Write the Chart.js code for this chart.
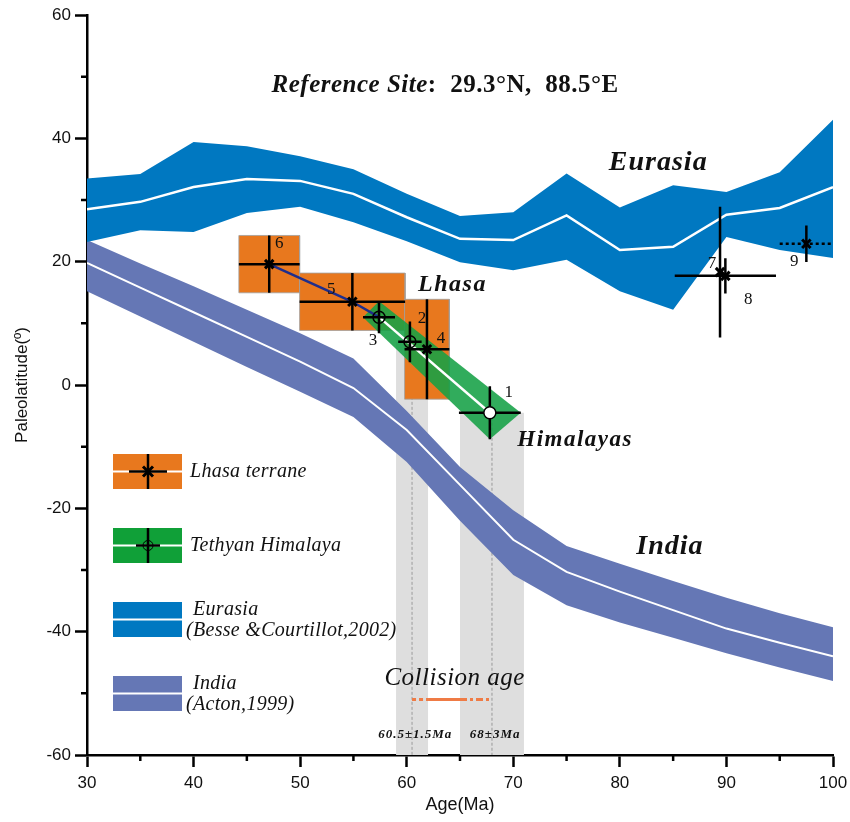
<!DOCTYPE html>
<html>
<head>
<meta charset="utf-8">
<script src="https://cdn.jsdelivr.net/npm/chart.js@4.4.0/dist/chart.umd.min.js"></script>
<style>
  html, body { margin: 0; background: #fff; }
</style>
</head>
<body>
<canvas id="paleoChart" width="850" height="822"></canvas>
<script>
// APWP bands (Ma -> paleolatitude)
const ages = [30, 35, 40, 45, 50, 55, 60, 65, 70, 75, 80, 85, 90, 95, 100];
const eurasiaUpper = [33.5, 34.2, 39.4, 38.7, 37.1, 35.0, 31.0, 27.4, 28.0, 34.3, 28.8, 32.4, 31.3, 34.5, 43.0];
const eurasiaMean  = [28.5, 29.7, 32.1, 33.4, 33.1, 31.0, 27.2, 23.7, 23.5, 27.5, 21.9, 22.4, 27.6, 28.7, 32.1];
const eurasiaLower = [23.2, 25.1, 24.8, 27.9, 28.9, 26.4, 23.3, 19.9, 18.6, 20.3, 15.2, 12.2, 24.0, 21.9, 20.6];
const indiaUpper = [23.5, 19.7, 16.0, 12.2, 8.4, 4.3, -4.2, -13.3, -20.3, -26.1, -29.0, -31.8, -34.5, -37.0, -39.3];
const indiaMean  = [19.8, 15.8, 11.8, 7.8, 3.8, -0.5, -7.3, -16.2, -25.1, -30.3, -33.5, -36.5, -39.5, -41.8, -44.0];
const indiaLower = [15.2, 11.1, 7.0, 2.9, -1.1, -5.2, -12.5, -22.0, -30.8, -35.7, -38.5, -41.0, -43.5, -45.8, -48.0];

// Tethyan Himalaya sites 1-3
const tethyanSite = ['1', '2', '3'];
const tethyanAge = [67.8, 60.3, 57.4];
const tethyanAgeErr = [2.9, 1.1, 1.5];
const tethyanLat = [-4.5, 7.0, 11.0];
const tethyanLatErr = [4.3, 3.3, 2.6];

// Lhasa terrane sites 4-6
const lhasaSite = ['4', '5', '6'];
const lhasaAge = [61.9, 54.9, 47.1];
const lhasaAgeErr = [2.1, 4.95, 2.85];
const lhasaLat = [5.8, 13.5, 19.6];
const lhasaLatErr = [8.1, 4.65, 4.65];

// Eurasia sites 7-9
const eurasiaSite = ['7', '8', '9'];
const eurasiaAge = [89.4, 89.9, 97.5];
const eurasiaAgeErr = [0, 4.75, 2.5];
const eurasiaLat = [18.3, 17.7, 22.9];
const eurasiaLatErr = [10.6, 2.85, 2.95];

// collision ages
const collisionAge = [60.5, 68];
const collisionAgeErr = [1.5, 3];
const collisionLineLat = -51;

const BLUE = '#0078C1';
const INDIA = '#6577B5';
const ORANGE = '#E8781E';
const GREEN = 'rgba(20,160,70,0.88)';

function pts(xs, ys) {
  return xs.map((x, i) => ({ x: x, y: ys[i] }));
}
function band(xs, up, low) {
  return pts(xs, up).concat(pts(xs, low).reverse());
}
function box(x, y, ex, ey) {
  return [{x: x - ex, y: y + ey}, {x: x + ex, y: y + ey}, {x: x + ex, y: y - ey}, {x: x - ex, y: y - ey}, {x: x - ex, y: y + ey}];
}
// error bar segments separated by gaps
function errH(xs, ys, ex, skip) {
  let out = [];
  xs.forEach((x, i) => {
    if (!ex[i] || (skip && skip.includes(i))) return;
    out.push({x: x - ex[i], y: ys[i]}, {x: x + ex[i], y: ys[i]}, {x: x, y: null});
  });
  return out;
}
function errV(xs, ys, ey) {
  let out = [];
  xs.forEach((x, i) => {
    out.push({x: x, y: ys[i] - ey[i]}, {x: x, y: ys[i] + ey[i]}, {x: x, y: null});
  });
  return out;
}
function shape(data, color, order, extra) {
  return Object.assign({ type: 'line', data: data, fill: 'shape', backgroundColor: color, borderWidth: 0, pointRadius: 0, tension: 0, order: order }, extra || {});
}
function line(data, color, width, order, extra) {
  return Object.assign({ type: 'line', data: data, fill: false, borderColor: color, borderWidth: width, pointRadius: 0, tension: 0, spanGaps: false, order: order }, extra || {});
}

let datasets = [];
// grey collision columns
collisionAge.forEach((a, i) => {
  const top = i === 0 ? tethyanLat[1] : tethyanLat[0];
  datasets.push(shape([{x: a - collisionAgeErr[i], y: top}, {x: a + collisionAgeErr[i], y: top}, {x: a + collisionAgeErr[i], y: -60}, {x: a - collisionAgeErr[i], y: -60}], '#DEDEDE', 100));
  datasets.push(line([{x: a, y: top}, {x: a, y: -60}], '#9a9a9a', 1, 99, {borderDash: [3, 2]}));
});
datasets.push(shape(band(ages, indiaUpper, indiaLower), INDIA, 90));
datasets.push(line(pts(ages, indiaMean), '#fff', 2, 89));
datasets.push(shape(band(ages, eurasiaUpper, eurasiaLower), BLUE, 88));
datasets.push(line(pts(ages, eurasiaMean), '#fff', 2.5, 87));
lhasaAge.forEach((a, i) => {
  datasets.push(shape(box(a, lhasaLat[i], lhasaAgeErr[i], lhasaLatErr[i]), ORANGE, 80, {borderWidth: 1, borderColor: 'rgba(160,160,160,0.8)'}));
});
// Tethyan Himalaya band between site 3 and site 1
datasets.push(shape([
  {x: tethyanAge[2] - tethyanAgeErr[2], y: tethyanLat[2]},
  {x: tethyanAge[2], y: tethyanLat[2] + tethyanLatErr[2]},
  {x: tethyanAge[0] + tethyanAgeErr[0], y: tethyanLat[0]},
  {x: tethyanAge[0], y: tethyanLat[0] - tethyanLatErr[0]}
], GREEN, 70));
datasets.push(line([{x: tethyanAge[2], y: tethyanLat[2]}, {x: tethyanAge[0], y: tethyanLat[0]}], '#fff', 2.5, 69));
datasets.push(line([{x: lhasaAge[2], y: lhasaLat[2]}, {x: lhasaAge[1], y: lhasaLat[1]}, {x: tethyanAge[2], y: tethyanLat[2]}], '#1F2E8C', 2.5, 60));
// error bars
datasets.push(line(errH(lhasaAge, lhasaLat, lhasaAgeErr).concat(errH(tethyanAge, tethyanLat, tethyanAgeErr), errH(eurasiaAge, eurasiaLat, eurasiaAgeErr, [2])), '#000', 2.5, 50));
datasets.push(line(errV(lhasaAge, lhasaLat, lhasaLatErr).concat(errV(tethyanAge, tethyanLat, tethyanLatErr), errV(eurasiaAge, eurasiaLat, eurasiaLatErr)), '#000', 2.5, 50));
datasets.push(line([{x: eurasiaAge[2] - eurasiaAgeErr[2], y: eurasiaLat[2]}, {x: eurasiaAge[2] + eurasiaAgeErr[2], y: eurasiaLat[2]}], '#000', 2.5, 50, {borderDash: [3, 3]}));
// collision age span
datasets.push(line([
  {x: collisionAge[0], y: collisionLineLat}, {x: collisionAge[0] + 1.5, y: collisionLineLat},
  {x: collisionAge[1] - 3, y: collisionLineLat}, {x: collisionAge[1], y: collisionLineLat}
], '#EF7B45', 3, 50, {segment: {borderDash: c => c.p0DataIndex === 0 ? [4, 3] : (c.p0DataIndex === 2 ? [7, 3, 3, 3] : undefined)}}));
// markers
datasets.push({ type: 'line', showLine: false, data: pts(lhasaAge, lhasaLat).concat(pts(eurasiaAge, eurasiaLat)), pointStyle: 'crossRot', pointRadius: 6, pointBorderWidth: 3, pointBorderColor: '#000', order: 40 });
datasets.push({ type: 'line', showLine: false, data: pts(tethyanAge, tethyanLat), pointStyle: 'circle', pointRadius: 6, pointBorderWidth: 1.5, pointBorderColor: '#000', pointBackgroundColor: ['#fff', 'rgba(0,0,0,0)', 'rgba(0,0,0,0)'], order: 40 });

// pixel offsets for site numbers
const siteOffsets = { '1': [19, -20], '2': [12, -23], '3': [-6, 23], '4': [14, -11], '5': [-21, -12], '6': [10, -21], '7': [-8, -9], '8': [23, 24], '9': [-12, 18] };

const textPlugin = {
  id: 'texts',
  afterDatasetsDraw(chart) {
    const ctx = chart.ctx;
    const x = chart.scales.x, y = chart.scales.y;
    const a = chart.chartArea;
    ctx.save();
    // minor ticks
    ctx.strokeStyle = '#000';
    ctx.lineWidth = 2.5;
    ctx.beginPath();
    for (let v = 35; v < 100; v += 10) {
      const px = x.getPixelForValue(v);
      ctx.moveTo(px, a.bottom); ctx.lineTo(px, a.bottom + 6);
    }
    for (let v = -50; v < 60; v += 20) {
      const py = y.getPixelForValue(v);
      ctx.moveTo(a.left, py); ctx.lineTo(a.left - 6, py);
    }
    ctx.stroke();

    ctx.fillStyle = '#111';
    ctx.textAlign = 'center';
    ctx.textBaseline = 'middle';
    // site numbers
    ctx.font = '17px "Liberation Serif"';
    const allSites = [[tethyanSite, tethyanAge, tethyanLat], [lhasaSite, lhasaAge, lhasaLat], [eurasiaSite, eurasiaAge, eurasiaLat]];
    allSites.forEach(s => {
      s[0].forEach((id, i) => {
        const o = siteOffsets[id];
        ctx.fillText(id, x.getPixelForValue(s[1][i]) + o[0], y.getPixelForValue(s[2][i]) + o[1]);
      });
    });
    // annotations
    const notes = [
      {t: 'Eurasia', x: 83.6, y: 36.0, f: 'italic bold 28px "Liberation Serif"', ls: 1},
      {t: 'India', x: 84.7, y: -26.3, f: 'italic bold 28px "Liberation Serif"', ls: 1},
      {t: 'Lhasa', x: 64.3, y: 16.2, f: 'italic bold 24px "Liberation Serif"', ls: 1.5},
      {t: 'Himalayas', x: 75.8, y: -8.9, f: 'italic bold 23px "Liberation Serif"', ls: 1.5},
      {t: 'Collision age', x: 64.5, y: -47.6, f: 'italic 25px "Liberation Serif"', ls: 0.5},
      {t: '60.5±1.5Ma', x: 60.8, y: -56.7, f: 'italic bold 13px "Liberation Serif"', ls: 1},
      {t: '68±3Ma', x: 68.3, y: -56.7, f: 'italic bold 13px "Liberation Serif"', ls: 1}
    ];
    notes.forEach(n => {
      ctx.font = n.f;
      ctx.letterSpacing = n.ls + 'px';
      ctx.fillText(n.t, x.getPixelForValue(n.x), y.getPixelForValue(n.y));
    });
    ctx.letterSpacing = '0px';
    // reference site
    const f1 = 'italic bold 25px "Liberation Serif"', f2 = 'bold 25px "Liberation Serif"';
    const t1 = 'Reference Site', t2 = ':  29.3°N,  88.5°E';
    ctx.letterSpacing = '0.5px';
    ctx.font = f1; const w1 = ctx.measureText(t1).width;
    ctx.font = f2; const w2 = ctx.measureText(t2).width;
    const cx = x.getPixelForValue(63.6), cy = y.getPixelForValue(48.5);
    ctx.textAlign = 'left';
    ctx.font = f1; ctx.fillText(t1, cx - (w1 + w2) / 2, cy);
    ctx.font = f2; ctx.fillText(t2, cx - (w1 + w2) / 2 + w1, cy);

    // legend
    const items = [
      {top: 454, color: ORANGE, mark: 'star', text: ['Lhasa terrane']},
      {top: 528, color: '#10A038', mark: 'circle', text: ['Tethyan Himalaya']},
      {top: 602, color: BLUE, text: ['Eurasia', '(Besse &Courtillot,2002)']},
      {top: 676, color: INDIA, text: ['India', '(Acton,1999)']}
    ];
    items.forEach(it => {
      const mid = it.top + 17.5;
      ctx.fillStyle = it.color;
      ctx.fillRect(113, it.top, 69, 35);
      ctx.fillStyle = '#fff';
      ctx.fillRect(113, mid - 1, 69, 2);
      ctx.strokeStyle = '#000';
      if (it.mark) {
        ctx.lineWidth = 2.5;
        ctx.beginPath();
        const hw = it.mark === 'star' ? 19 : 12;
        ctx.moveTo(148 - hw, mid); ctx.lineTo(148 + hw, mid);
        ctx.moveTo(148, it.top); ctx.lineTo(148, it.top + 35);
        ctx.stroke();
        ctx.beginPath();
        if (it.mark === 'star') {
          ctx.lineWidth = 3;
          ctx.moveTo(143, mid - 5); ctx.lineTo(153, mid + 5);
          ctx.moveTo(153, mid - 5); ctx.lineTo(143, mid + 5);
        } else {
          ctx.lineWidth = 1;
          ctx.arc(148, mid, 5, 0, Math.PI * 2);
        }
        ctx.stroke();
      }
      ctx.fillStyle = '#111';
      ctx.font = 'italic 20px "Liberation Serif"';
      ctx.letterSpacing = '0.3px';
      if (it.text.length === 1) {
        ctx.fillText(it.text[0], 190, mid);
      } else {
        ctx.fillText(it.text[0], 193, it.top + 8);
        ctx.fillText(it.text[1], 186, it.top + 29);
      }
      ctx.letterSpacing = '0px';
    });
    ctx.restore();
  }
};

new Chart(document.getElementById('paleoChart'), {
  type: 'line',
  data: { datasets: datasets },
  plugins: [textPlugin],
  options: {
    responsive: false,
    animation: false,
    devicePixelRatio: 1,
    layout: { padding: { top: 15, right: 17, left: 0, bottom: 0 } },
    plugins: { legend: { display: false }, tooltip: { enabled: false } },
    elements: { line: { capBezierPoints: false } },
    scales: {
      x: {
        type: 'linear', min: 30, max: 100,
        afterFit: s => { s.height = 67; s.paddingRight = 0; s.paddingLeft = 0; },
        ticks: { stepSize: 10, color: '#111', font: { family: 'Liberation Sans', size: 17 }, padding: 6, maxRotation: 0 },
        grid: { drawOnChartArea: false, tickLength: 12, tickWidth: 2.5, tickColor: '#000' },
        border: { color: '#000', width: 2.5 },
        title: { display: true, text: 'Age(Ma)', color: '#111', font: { family: 'Liberation Sans', size: 18 }, padding: { top: 0, bottom: 6 } }
      },
      y: {
        min: -60, max: 60,
        afterFit: s => { s.width = 87; s.paddingTop = 0; s.paddingBottom = 0; },
        ticks: { stepSize: 20, color: '#111', font: { family: 'Liberation Sans', size: 17 }, padding: 4 },
        grid: { drawOnChartArea: false, tickLength: 12, tickWidth: 2.5, tickColor: '#000' },
        border: { color: '#000', width: 2.5 },
        title: { display: true, text: 'Paleolatitude(º)', color: '#111', font: { family: 'Liberation Sans', size: 17 }, padding: { top: 12, bottom: 0 } }
      }
    }
  }
});
</script>
</body>
</html>
